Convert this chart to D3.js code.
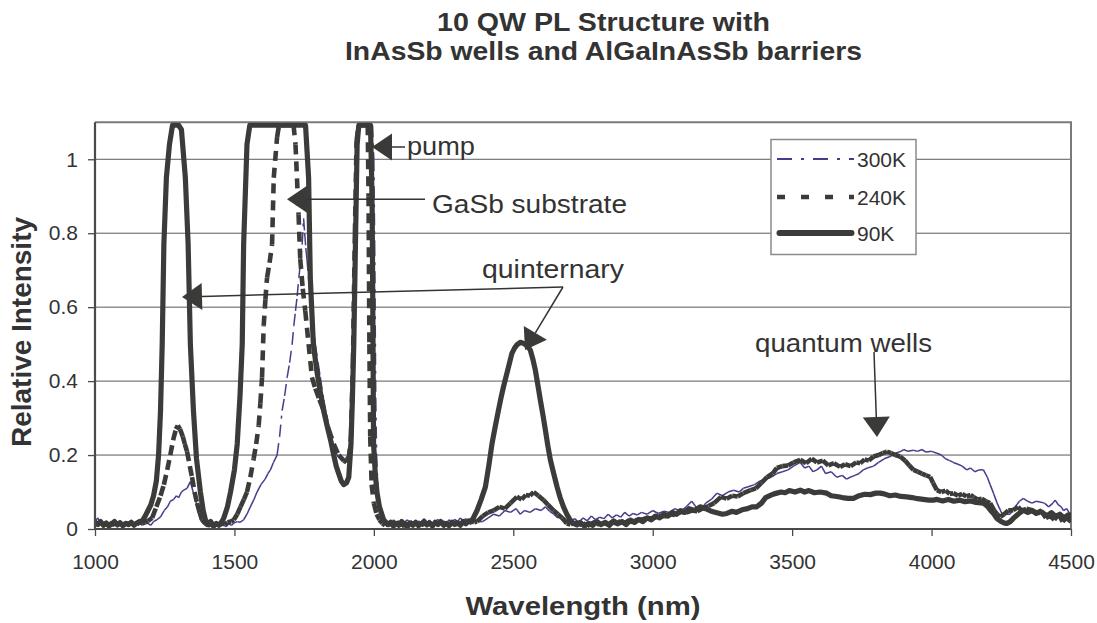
<!DOCTYPE html>
<html><head><meta charset="utf-8">
<script src="https://cdn.jsdelivr.net/npm/d3@7"></script>
<style>
body{margin:0;background:#fff;}
svg{display:block;font-family:"Liberation Sans",Arial,sans-serif;}
</style></head>
<body>
<svg id="c" width="1097" height="623"></svg>
<script>
// ---------------- DATA ----------------
const seriesNames = ["300K", "240K", "90K"];
const xTicks = [1000, 1500, 2000, 2500, 3000, 3500, 4000, 4500];
const yTicks = [0, 0.2, 0.4, 0.6, 0.8, 1];
const yGrid = [0.2, 0.4, 0.6, 0.8, 1];

const k300 = [[1000,0.02],[1010,0.03],[1020,0.012],[1030,0.018],[1040,0.008],[1050,0.015],[1060,0.01],[1070,0.02],[1080,0.014],[1090,0.009],[1100,0.016],[1110,0.012],[1120,0.02],[1130,0.01],[1140,0.018],[1150,0.012],[1160,0.016],[1170,0.01],[1180,0.018],[1190,0.015],[1200,0.01],[1210,0.02],[1222,0.025],[1235,0.033],[1248,0.05],[1260,0.06],[1270,0.075],[1282,0.08],[1292,0.09],[1300,0.085],[1310,0.1],[1318,0.105],[1330,0.11],[1342,0.128],[1352,0.1],[1360,0.08],[1370,0.05],[1378,0.025],[1390,0.015],[1400,0.01],[1410,0.005],[1420,0.012],[1430,0.006],[1440,0.014],[1450,0.008],[1460,0.012],[1470,0.006],[1480,0.014],[1490,0.01],[1498,0.016],[1510,0.02],[1520,0.018],[1533,0.025],[1545,0.04],[1557,0.06],[1570,0.08],[1581,0.1],[1595,0.12],[1610,0.135],[1620,0.15],[1629,0.16],[1640,0.18],[1653,0.2],[1662,0.25],[1671,0.32],[1680,0.36],[1689,0.41],[1698,0.45],[1707,0.5],[1713,0.55],[1719,0.59],[1725,0.63],[1731,0.68],[1737,0.72],[1743,0.77],[1748,0.84],[1752,0.8],[1756,0.76],[1760,0.73],[1768,0.66],[1778,0.59],[1790,0.5],[1800,0.45],[1808,0.41],[1820,0.35],[1830,0.31],[1838,0.28],[1850,0.24],[1860,0.215],[1868,0.2],[1880,0.19],[1890,0.185],[1898,0.19],[1908,0.2],[1916,0.25],[1923,0.4],[1930,0.7],[1936,1.0],[1942,1.3],[1970,1.5],[1995,1.3],[2000,1.0],[2003,0.77],[2005,0.55],[2007,0.35],[2010,0.2],[2015,0.1],[2020,0.05],[2030,0.025],[2040,0.015],[2050,0.02],[2060,0.012],[2070,0.025],[2080,0.015],[2090,0.022],[2100,0.01],[2110,0.018],[2120,0.025],[2130,0.014],[2140,0.02],[2150,0.012],[2160,0.022],[2170,0.016],[2180,0.028],[2190,0.018],[2200,0.024],[2210,0.014],[2220,0.02],[2230,0.026],[2240,0.016],[2250,0.022],[2260,0.015],[2270,0.025],[2280,0.018],[2290,0.026],[2300,0.02],[2310,0.03],[2320,0.022],[2330,0.028],[2340,0.02],[2350,0.03],[2360,0.022],[2370,0.026],[2380,0.02],[2390,0.02],[2410,0.03],[2430,0.04],[2450,0.035],[2470,0.05],[2490,0.045],[2510,0.055],[2525,0.04],[2540,0.05],[2560,0.045],[2580,0.055],[2600,0.05],[2615,0.06],[2630,0.048],[2645,0.04],[2660,0.03],[2675,0.035],[2690,0.025],[2705,0.02],[2720,0.028],[2735,0.018],[2750,0.03],[2765,0.022],[2780,0.035],[2795,0.025],[2810,0.032],[2825,0.028],[2840,0.04],[2855,0.03],[2870,0.038],[2885,0.032],[2900,0.045],[2915,0.035],[2930,0.042],[2945,0.038],[2960,0.045],[2980,0.04],[3000,0.05],[3020,0.042],[3040,0.048],[3060,0.045],[3080,0.055],[3100,0.048],[3120,0.06],[3140,0.075],[3160,0.055],[3170,0.05],[3190,0.07],[3210,0.08],[3230,0.097],[3250,0.09],[3270,0.1],[3290,0.105],[3310,0.1],[3325,0.11],[3345,0.115],[3365,0.12],[3385,0.13],[3405,0.135],[3425,0.14],[3445,0.15],[3465,0.155],[3485,0.16],[3505,0.17],[3529,0.18],[3545,0.165],[3560,0.17],[3575,0.155],[3589,0.16],[3605,0.17],[3620,0.15],[3640,0.155],[3660,0.14],[3680,0.145],[3695,0.135],[3708,0.14],[3725,0.145],[3740,0.15],[3755,0.16],[3770,0.165],[3792,0.17],[3810,0.18],[3830,0.19],[3851,0.196],[3870,0.205],[3890,0.21],[3900,0.215],[3915,0.21],[3935,0.213],[3950,0.21],[3965,0.215],[3980,0.208],[4000,0.21],[4019,0.205],[4035,0.2],[4050,0.19],[4065,0.185],[4078,0.18],[4095,0.175],[4110,0.17],[4126,0.16],[4140,0.165],[4155,0.155],[4170,0.16],[4186,0.16],[4200,0.14],[4210,0.12],[4222,0.097],[4235,0.07],[4252,0.042],[4265,0.04],[4281,0.04],[4300,0.06],[4315,0.075],[4329,0.083],[4345,0.075],[4360,0.07],[4375,0.075],[4389,0.073],[4405,0.07],[4420,0.06],[4435,0.07],[4443,0.078],[4455,0.065],[4465,0.06],[4473,0.05],[4485,0.055],[4496,0.04],[4500,0.045]];

const k240 = [[1000,0.012],[1010,0.02],[1020,0.01],[1030,0.016],[1040,0.008],[1050,0.018],[1060,0.01],[1070,0.014],[1080,0.02],[1090,0.009],[1100,0.015],[1110,0.011],[1120,0.018],[1130,0.01],[1140,0.016],[1150,0.012],[1160,0.02],[1170,0.015],[1180,0.018],[1190,0.022],[1205,0.03],[1220,0.06],[1235,0.09],[1247,0.12],[1259,0.16],[1270,0.2],[1280,0.24],[1290,0.27],[1297,0.28],[1305,0.27],[1315,0.25],[1322,0.23],[1330,0.21],[1340,0.17],[1348,0.14],[1357,0.1],[1366,0.07],[1375,0.045],[1384,0.025],[1395,0.015],[1405,0.01],[1415,0.018],[1425,0.008],[1435,0.014],[1445,0.01],[1455,0.016],[1465,0.012],[1475,0.018],[1488,0.02],[1498,0.025],[1510,0.04],[1522,0.06],[1534,0.08],[1545,0.1],[1557,0.14],[1569,0.19],[1578,0.23],[1587,0.28],[1593,0.34],[1599,0.41],[1605,0.55],[1611,0.62],[1617,0.68],[1626,0.72],[1635,0.77],[1641,0.95],[1653,1.06],[1660,1.2],[1690,1.3],[1712,1.15],[1719,1.04],[1730,0.85],[1736,0.73],[1745,0.65],[1754,0.59],[1766,0.5],[1778,0.41],[1790,0.38],[1805,0.35],[1820,0.32],[1838,0.27],[1856,0.23],[1874,0.2],[1892,0.185],[1902,0.18],[1910,0.19],[1918,0.25],[1925,0.45],[1932,0.8],[1938,1.05],[1945,1.3],[1965,1.5],[1978,1.3],[1981,0.9],[1984,0.5],[1987,0.25],[1992,0.12],[2000,0.07],[2010,0.04],[2020,0.025],[2030,0.015],[2040,0.01],[2050,0.018],[2060,0.008],[2070,0.014],[2080,0.02],[2090,0.01],[2100,0.015],[2110,0.006],[2120,0.018],[2130,0.012],[2140,0.02],[2150,0.008],[2160,0.016],[2170,0.01],[2180,0.014],[2190,0.02],[2200,0.009],[2210,0.017],[2220,0.011],[2230,0.02],[2240,0.013],[2250,0.018],[2260,0.008],[2270,0.016],[2280,0.012],[2290,0.02],[2300,0.014],[2310,0.018],[2320,0.012],[2330,0.02],[2340,0.015],[2350,0.022],[2360,0.018],[2370,0.02],[2390,0.035],[2410,0.045],[2430,0.05],[2450,0.06],[2470,0.055],[2490,0.07],[2513,0.087],[2530,0.08],[2545,0.092],[2560,0.09],[2573,0.1],[2590,0.09],[2609,0.078],[2625,0.065],[2645,0.05],[2660,0.04],[2675,0.03],[2692,0.015],[2705,0.012],[2720,0.02],[2735,0.01],[2750,0.016],[2765,0.008],[2780,0.014],[2795,0.02],[2810,0.01],[2825,0.017],[2840,0.012],[2855,0.02],[2870,0.014],[2885,0.022],[2900,0.016],[2915,0.024],[2930,0.018],[2945,0.026],[2960,0.025],[2980,0.03],[3000,0.028],[3020,0.036],[3040,0.033],[3060,0.04],[3080,0.038],[3100,0.046],[3120,0.044],[3140,0.05],[3160,0.048],[3180,0.056],[3200,0.062],[3220,0.07],[3245,0.087],[3265,0.082],[3285,0.09],[3305,0.088],[3325,0.097],[3351,0.105],[3370,0.11],[3390,0.125],[3410,0.14],[3430,0.15],[3445,0.165],[3465,0.17],[3485,0.172],[3505,0.18],[3529,0.187],[3550,0.178],[3570,0.19],[3589,0.18],[3610,0.185],[3630,0.172],[3650,0.178],[3672,0.168],[3690,0.175],[3710,0.17],[3730,0.18],[3744,0.178],[3760,0.188],[3775,0.185],[3792,0.196],[3810,0.2],[3825,0.205],[3840,0.209],[3855,0.205],[3870,0.2],[3887,0.196],[3905,0.185],[3920,0.172],[3935,0.16],[3950,0.155],[3965,0.15],[3980,0.145],[3995,0.141],[4005,0.125],[4019,0.105],[4035,0.1],[4050,0.104],[4065,0.095],[4078,0.097],[4095,0.09],[4110,0.095],[4125,0.088],[4140,0.092],[4150,0.087],[4165,0.08],[4180,0.082],[4195,0.075],[4210,0.07],[4225,0.05],[4235,0.04],[4246,0.033],[4260,0.04],[4275,0.05],[4293,0.051],[4310,0.06],[4325,0.048],[4340,0.055],[4365,0.05],[4380,0.042],[4395,0.048],[4410,0.03],[4425,0.035],[4440,0.025],[4455,0.04],[4470,0.02],[4484,0.03],[4500,0.02]];

const k90 = [[1000,0.018],[1010,0.012],[1020,0.02],[1030,0.01],[1040,0.016],[1050,0.008],[1060,0.014],[1070,0.02],[1080,0.011],[1090,0.017],[1100,0.009],[1110,0.015],[1120,0.012],[1130,0.018],[1140,0.01],[1150,0.016],[1160,0.02],[1170,0.022],[1180,0.035],[1190,0.05],[1200,0.065],[1210,0.09],[1220,0.13],[1228,0.2],[1235,0.32],[1241,0.5],[1247,0.77],[1256,0.95],[1267,1.04],[1278,1.15],[1290,1.3],[1300,1.2],[1310,1.08],[1324,0.95],[1334,0.77],[1342,0.5],[1353,0.32],[1364,0.19],[1378,0.1],[1388,0.05],[1396,0.025],[1405,0.012],[1415,0.02],[1425,0.008],[1435,0.015],[1445,0.01],[1455,0.02],[1462,0.03],[1475,0.06],[1486,0.1],[1500,0.16],[1510,0.23],[1520,0.36],[1528,0.5],[1533,0.77],[1545,1.04],[1555,1.15],[1570,1.3],[1600,1.4],[1650,1.5],[1700,1.45],[1740,1.25],[1755,1.12],[1766,0.95],[1772,0.68],[1783,0.5],[1795,0.43],[1808,0.37],[1820,0.32],[1832,0.28],[1845,0.24],[1856,0.2],[1865,0.17],[1874,0.15],[1883,0.13],[1892,0.12],[1902,0.125],[1910,0.14],[1918,0.23],[1923,0.35],[1928,0.5],[1934,0.77],[1940,1.04],[1946,1.2],[1960,1.5],[1980,1.4],[1988,1.15],[1992,0.95],[1994,0.86],[1997,0.5],[1999,0.23],[2005,0.15],[2011,0.1],[2020,0.06],[2035,0.025],[2050,0.012],[2060,0.018],[2070,0.008],[2080,0.015],[2090,0.01],[2100,0.02],[2110,0.012],[2120,0.006],[2130,0.016],[2140,0.01],[2150,0.018],[2160,0.009],[2170,0.014],[2180,0.02],[2190,0.011],[2200,0.016],[2210,0.008],[2220,0.018],[2230,0.012],[2240,0.02],[2250,0.01],[2260,0.015],[2270,0.009],[2280,0.018],[2290,0.012],[2300,0.016],[2310,0.01],[2320,0.02],[2330,0.014],[2340,0.022],[2350,0.02],[2360,0.035],[2370,0.05],[2385,0.08],[2400,0.114],[2412,0.17],[2424,0.232],[2436,0.28],[2447,0.322],[2456,0.355],[2465,0.385],[2480,0.43],[2495,0.475],[2505,0.49],[2513,0.498],[2525,0.505],[2537,0.502],[2550,0.495],[2561,0.484],[2570,0.46],[2579,0.43],[2588,0.39],[2597,0.349],[2606,0.31],[2615,0.268],[2624,0.225],[2633,0.187],[2645,0.15],[2657,0.114],[2668,0.085],[2680,0.06],[2692,0.04],[2704,0.024],[2716,0.015],[2728,0.011],[2740,0.018],[2755,0.008],[2770,0.015],[2785,0.01],[2800,0.02],[2815,0.012],[2830,0.018],[2845,0.01],[2860,0.022],[2875,0.014],[2890,0.02],[2905,0.012],[2920,0.024],[2935,0.018],[2950,0.026],[2965,0.02],[2980,0.03],[2995,0.025],[3010,0.035],[3025,0.03],[3040,0.04],[3055,0.035],[3070,0.045],[3085,0.04],[3100,0.05],[3115,0.045],[3130,0.055],[3150,0.05],[3170,0.06],[3190,0.055],[3210,0.048],[3230,0.044],[3250,0.04],[3266,0.042],[3285,0.048],[3300,0.045],[3320,0.052],[3340,0.055],[3356,0.06],[3373,0.06],[3390,0.07],[3405,0.085],[3420,0.09],[3435,0.095],[3445,0.097],[3460,0.1],[3475,0.098],[3490,0.104],[3510,0.1],[3529,0.105],[3545,0.1],[3560,0.104],[3580,0.098],[3600,0.1],[3624,0.097],[3640,0.09],[3660,0.088],[3680,0.085],[3700,0.083],[3720,0.083],[3740,0.09],[3760,0.094],[3780,0.093],[3800,0.097],[3815,0.097],[3830,0.095],[3850,0.09],[3870,0.092],[3890,0.088],[3911,0.087],[3930,0.085],[3950,0.082],[3970,0.08],[3990,0.078],[4006,0.078],[4020,0.08],[4040,0.076],[4060,0.08],[4080,0.075],[4102,0.078],[4120,0.074],[4140,0.076],[4160,0.072],[4186,0.07],[4200,0.062],[4212,0.05],[4222,0.042],[4235,0.028],[4250,0.02],[4262,0.016],[4270,0.015],[4282,0.02],[4295,0.03],[4310,0.04],[4329,0.051],[4345,0.045],[4360,0.05],[4375,0.042],[4390,0.048],[4401,0.042],[4415,0.036],[4430,0.044],[4445,0.034],[4460,0.04],[4475,0.03],[4490,0.038],[4500,0.035]];

const seriesData = [k300, k240, k90];

// ---------------- LAYOUT / STYLE ----------------
const M = {left: 95, right: 1071, top: 122.3, bottom: 529};
const styles = [
  {color: "#4a3a8c", width: 1.5, dash: "12,6,3,6", legendDash: "15,9,3,9", cap: "butt", perSegment: true},
  {color: "#3b3b39", width: 4.6, dash: "10,7", legendDash: "8,16", cap: "butt", perSegment: true},
  {color: "#3b3b39", width: 5.2, dash: null, legendDash: null, cap: "round", perSegment: false}
];
const ink = "#333333";
const svg = d3.select("#c");

const x = d3.scaleLinear().domain([1000, 4500]).range([M.left, M.right]);
const y = d3.scaleLinear().domain([0, 1.1]).range([M.bottom, M.top]);
const yShow = 1.092; // Excel-like clipping just below the top border

// grid
svg.append("g").selectAll("line").data(yGrid).join("line")
  .attr("x1", M.left).attr("x2", M.right)
  .attr("y1", d => y(d)).attr("y2", d => y(d))
  .attr("stroke", "#5a5a5a").attr("stroke-width", 1);

// plot border (top/right)
svg.append("path")
  .attr("d", `M${M.left},${M.top}H${M.right}V${M.bottom}`)
  .attr("fill", "none").attr("stroke", "#7a7a7a").attr("stroke-width", 2);

// clip
svg.append("clipPath").attr("id", "plotclip").append("rect")
  .attr("x", M.left).attr("y", M.top).attr("width", M.right - M.left).attr("height", M.bottom - M.top);

const px = d => x(d[0]);
const py = d => y(Math.min(d[1], yShow));
const line = d3.line().x(px).y(py);

const lines = svg.append("g").attr("clip-path", "url(#plotclip)");
seriesData.forEach((s, i) => {
  const st = styles[i];
  if (st.perSegment) {
    // Excel restarts the dash pattern on every segment
    lines.append("g").selectAll("line").data(d3.pairs(s)).join("line")
      .attr("x1", d => px(d[0])).attr("y1", d => py(d[0]))
      .attr("x2", d => px(d[1])).attr("y2", d => py(d[1]))
      .attr("stroke", st.color).attr("stroke-width", st.width)
      .attr("stroke-linecap", st.cap).attr("stroke-dasharray", st.dash);
  } else {
    lines.append("path").datum(s)
      .attr("d", line)
      .attr("fill", "none")
      .attr("stroke", st.color)
      .attr("stroke-width", st.width)
      .attr("stroke-linejoin", "round")
      .attr("stroke-linecap", st.cap);
  }
});

// axes
const xAxis = d3.axisBottom(x).tickValues(xTicks).tickSize(7).tickPadding(18).tickFormat(d3.format("d"));
const gx = svg.append("g").attr("transform", `translate(0,${M.bottom})`).call(xAxis);
const yAxis = d3.axisLeft(y).tickValues(yTicks).tickSize(7).tickPadding(10).tickFormat(d => String(d));
const gy = svg.append("g").attr("transform", `translate(${M.left},0)`).call(yAxis);
[gx, gy].forEach(g => {
  g.select(".domain").attr("stroke", "#4a4a4a").attr("stroke-width", 2.2);
  g.selectAll(".tick line").attr("stroke", "#4a4a4a").attr("stroke-width", 1.3);
  g.selectAll(".tick text").attr("fill", ink).attr("font-size", 21)
    .attr("font-family", "'Liberation Sans', Arial, sans-serif");
});
gx.select(".domain").attr("d", `M${M.left},0H${M.right}`);
gy.select(".domain").attr("d", `M0,${M.top}V${M.bottom}`);

// titles
const title = svg.append("g").attr("fill", ink).attr("font-weight", "bold").attr("font-size", 25).attr("text-anchor", "middle");
title.append("text").attr("x", 603.5).attr("y", 31).attr("textLength", 333).attr("lengthAdjust", "spacingAndGlyphs").text("10 QW PL Structure with");
title.append("text").attr("x", 603.5).attr("y", 60).attr("textLength", 517).attr("lengthAdjust", "spacingAndGlyphs").text("InAsSb wells and AlGaInAsSb barriers");

svg.append("text").attr("x", 583).attr("y", 615).attr("text-anchor", "middle")
  .attr("font-weight", "bold").attr("font-size", 26).attr("fill", ink)
  .attr("textLength", 235).attr("lengthAdjust", "spacingAndGlyphs").text("Wavelength (nm)");
svg.append("text").attr("transform", "translate(31,332) rotate(-90)").attr("text-anchor", "middle")
  .attr("font-weight", "bold").attr("font-size", 27).attr("fill", ink)
  .attr("textLength", 230).attr("lengthAdjust", "spacingAndGlyphs").text("Relative Intensity");

// annotations (pixel layout)
const notes = [
  {text: "pump", tx: 407, ty: 155, len: 68},
  {text: "GaSb substrate", tx: 432, ty: 212.7, len: 195},
  {text: "quinternary", tx: 482, ty: 278.3, len: 142},
  {text: "quantum wells", tx: 755, ty: 351.7, len: 177}
];
const arrows = [
  [405, 147, 372, 147],
  [425, 199.3, 287, 199.3],
  [563, 287, 182, 297],
  [563, 287, 525, 350],
  [874, 352, 877, 437]
];
const ann = svg.append("g");
ann.selectAll("text").data(notes).join("text")
  .attr("x", d => d.tx).attr("y", d => d.ty).attr("font-size", 26).attr("fill", ink)
  .attr("textLength", d => d.len).attr("lengthAdjust", "spacingAndGlyphs").text(d => d.text);
arrows.forEach(([x1, y1, x2, y2]) => {
  const dx = x2 - x1, dy = y2 - y1, L = Math.hypot(dx, dy);
  const ux = dx / L, uy = dy / L, hl = 20, hw = 13.5;
  const bx = x2 - ux * hl, by = y2 - uy * hl;
  ann.append("line").attr("x1", x1).attr("y1", y1).attr("x2", bx).attr("y2", by)
    .attr("stroke", "#333").attr("stroke-width", 1.5);
  ann.append("path")
    .attr("d", `M${x2},${y2}L${bx - uy * hw},${by + ux * hw}L${bx + uy * hw},${by - ux * hw}Z`)
    .attr("fill", "#3a3a38");
});

// legend
const lg = svg.append("g");
lg.append("rect").attr("x", 771).attr("y", 139.5).attr("width", 145).attr("height", 115)
  .attr("fill", "#fff").attr("stroke", "#8a8a8a").attr("stroke-width", 1.5);
const legendY = [159, 197, 233];
seriesNames.forEach((n, i) => {
  const st = styles[i];
  lg.append("line").attr("x1", 777 + (st.cap === "round" ? 2.5 : 0)).attr("x2", 854 - (st.cap === "round" ? 2.5 : 0))
    .attr("y1", legendY[i]).attr("y2", legendY[i])
    .attr("stroke", st.color).attr("stroke-width", i === 0 ? 2 : (i === 1 ? 4.5 : 6))
    .attr("stroke-linecap", st.cap).attr("stroke-dasharray", st.legendDash);
  lg.append("text").attr("x", 857).attr("y", legendY[i]).attr("dy", "0.36em")
    .attr("font-size", 21).attr("fill", ink).text(n);
});
</script>
</body></html>
